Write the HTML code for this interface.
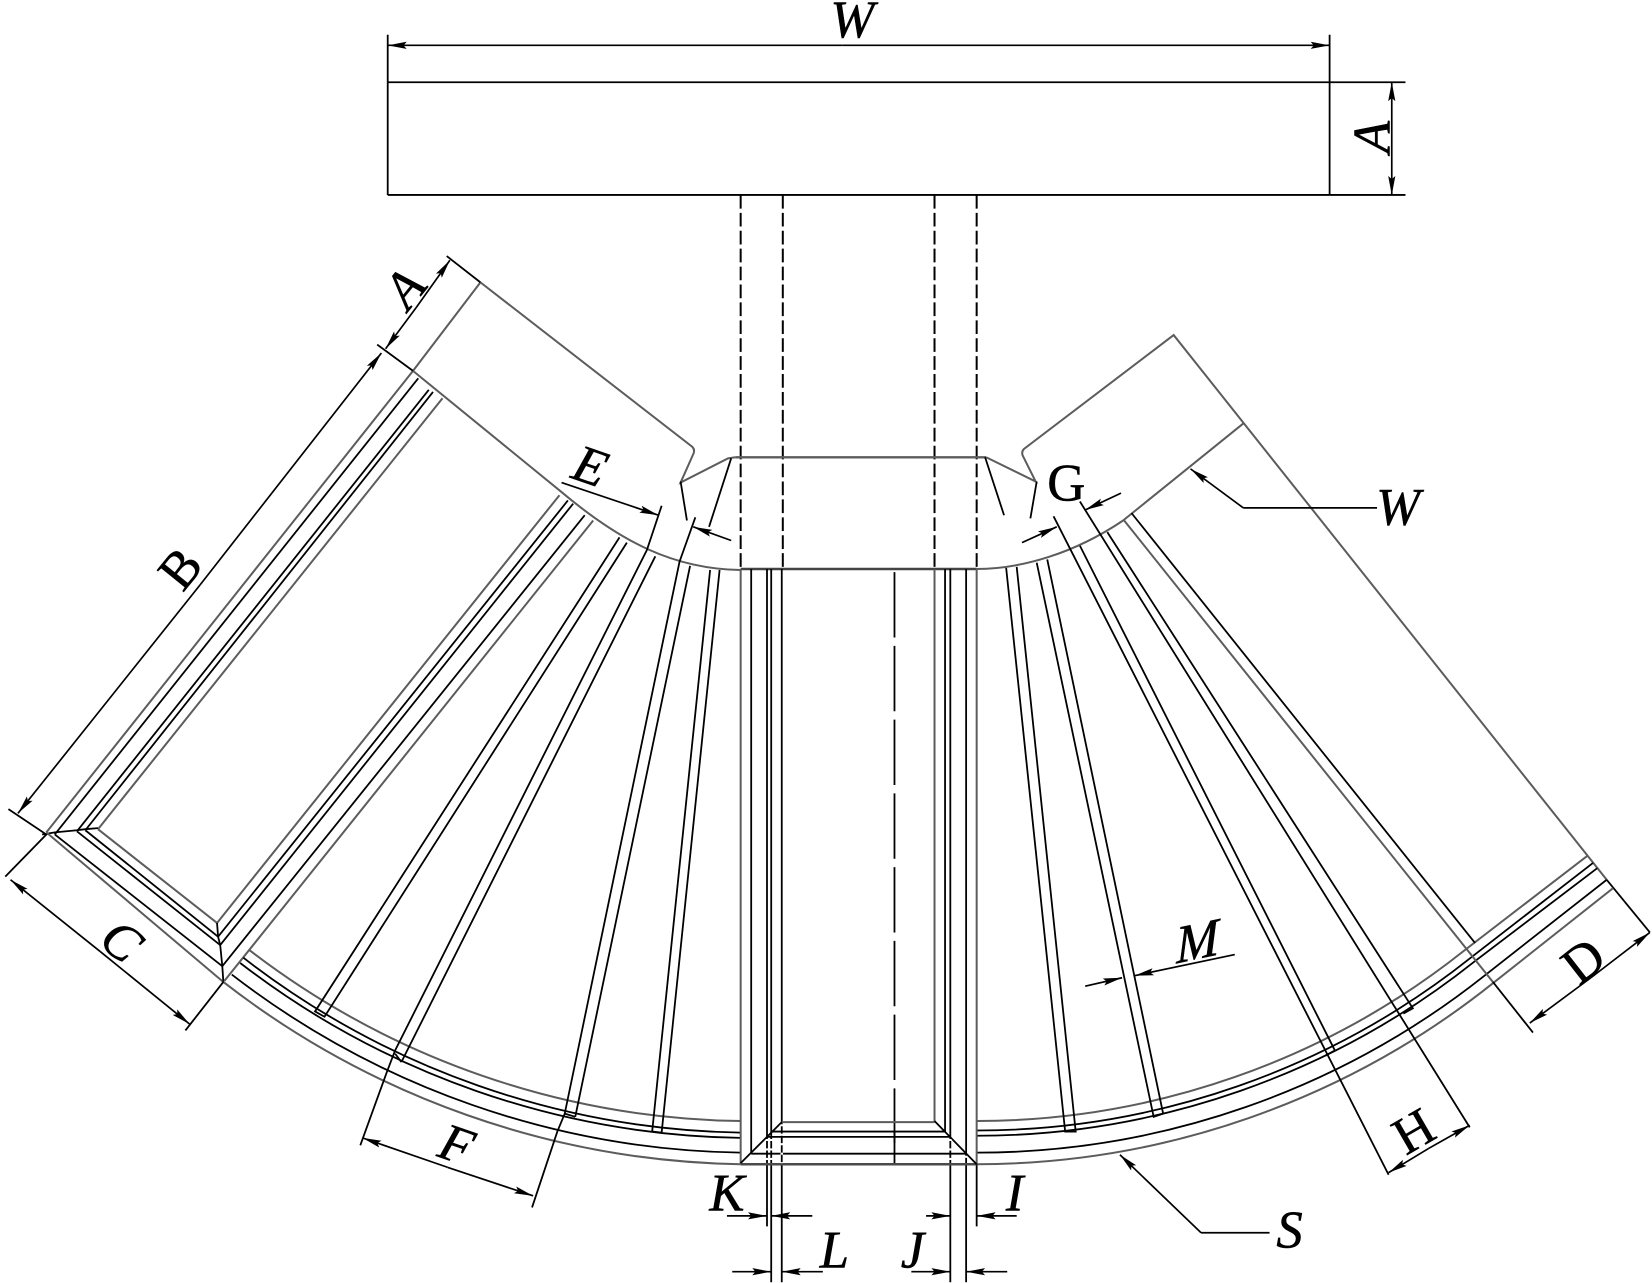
<!DOCTYPE html>
<html>
<head>
<meta charset="utf-8">
<style>
html,body{margin:0;padding:0;background:#fff;width:1652px;height:1283px;overflow:hidden}
svg{display:block}
.g{stroke:#5c5c5c;stroke-width:1.9;fill:none}
.k{stroke:#000;stroke-width:1.7;fill:none}
.d{stroke:#000;stroke-width:1.9;fill:none;stroke-dasharray:13 4}
.c{stroke:#000;stroke-width:1.7;fill:none;stroke-dasharray:62 8}
.a{stroke:#000;stroke-width:1.6;fill:none;marker-end:url(#ar)}
text{font-family:"Liberation Serif",serif;font-size:50px;fill:#000;text-anchor:middle;stroke:#000;stroke-width:.5}
.i{font-style:italic}
</style>
</head>
<body>
<svg width="1652" height="1283" viewBox="0 0 1568 1217.7" xmlns="http://www.w3.org/2000/svg">
<defs>
<marker id="ar" markerUnits="userSpaceOnUse" markerWidth="20" markerHeight="10" refX="18" refY="5" orient="auto">
<polygon points="0,1.6 18,5 0,8.4 3,5" fill="#000"/>
</marker>
</defs>
<rect width="1568" height="1218" fill="#fff"/>

<!-- Top view -->
<path class="k" d="M368,78H1262M368,185H1262M368,78V185M1262,78V185"/>
<path class="k" d="M368,33V78M1262,33V78M1262,78H1334M1262,185H1334"/>
<path class="a" d="M800,43H368"/><path class="a" d="M800,43H1262"/>
<path class="a" d="M1321,130V78"/><path class="a" d="M1321,130V185"/>

<!-- Dashed hidden lines -->
<path class="d" d="M703,185V540M743,185V540M887,185V540M927,185V540"/>
<path class="c" d="M849,543V1085"/>
<path class="k" d="M849,1075V1105"/>

<!-- Center block -->
<path class="g" style="stroke-width:2.2" d="M698,434H936"/>
<path class="g" style="stroke:#444;stroke-width:2.4" d="M703,540H927"/>

<!-- Left block outline -->
<path class="g" d="M456,268L657,424Q660,427 658,431L646,458L691,435L698,434"/>
<path class="g" d="M456,268L392,352L533,467C590,515 640,540 703,541"/>
<path class="k" d="M646,457L652,494M694,435L673,500"/>

<!-- Right block outline -->
<path class="g" d="M936,434L983,457L971,433Q969,429 972,426L1114,318L1525,835"/>
<path class="g" d="M1180,402L1066,494C1020,525 970,540 927,540"/>
<path class="k" d="M1525,835L1566,885"/>
<path class="k" d="M935,434L953,489M984,457L978,492"/>

<!-- Left arm -->
<path class="g" d="M44,790L392,352"/>
<path class="k" d="M52,792L397,359M73,789L407,370M81,788L411,372"/>
<path class="g" d="M93,787L420,378"/>
<path class="k" d="M40,792L52,790L73,788L81,787L93,786"/>
<path class="g" d="M44,790L212,932"/>
<path class="k" d="M52,792L211,917M73,789L209,897M81,788L207,889"/>
<path class="g" d="M93,787L206,876"/>
<path class="g" d="M206,876L531,470"/>
<path class="k" d="M207,889L539,475M209,897L544,478M211,917L555,489"/>
<path class="g" d="M213,931L563,494"/>
<path class="k" d="M206,876L207,889L209,897L211,917L212,932"/>

<!-- Left arcs -->
<path class="g" d="M212,932A822,822 0 0 0 703,1105"/>
<path class="k" d="M220,925A811,811 0 0 0 703,1094M228,914A797,797 0 0 0 703,1080M231,909A792,792 0 0 0 703,1075"/>
<path class="g" d="M237,902A782,782 0 0 0 703,1064"/>

<!-- Right arcs: circular then straight -->
<path class="g" d="M927,1105A786,786 0 0 0 1416,934L1531,843"/>
<path class="k" d="M927,1094A775,775 0 0 0 1409,926L1525,835M927,1078A759,759 0 0 0 1399,913L1516,824M927,1073A754,754 0 0 0 1396,909L1512,819"/>
<path class="g" d="M927,1064A745,745 0 0 0 1390,902L1507,812"/>

<!-- Left ribs -->
<path class="k" d="M588,510L299,960L308,965L595,515"/>
<path class="k" d="M628,480L614,522L375,997L367,1018L342,1087M622,528L381,1008M375,1000L381,1008"/>
<path class="k" d="M660,491L645,533L536,1057L529,1074L505,1146M655,537L546,1060M536,1057L546,1060"/>
<path class="k" d="M674,541L619,1074L628,1075L683,541"/>

<!-- Right ribs -->
<path class="k" d="M955,539L1011,1074L1021,1074L965,538"/>
<path class="k" d="M984,534L1095,1060L1104,1057L994,531"/>
<path class="k" d="M1000,490L1318,1115M1025,518L1267,997L1258,1002"/>
<path class="k" d="M1025,476L1395,1070M1051,505L1341,957L1332,962"/>
<path class="k" d="M1074,487L1400,895"/>
<path class="g" d="M1067,494L1417,932"/>
<path class="k" d="M1417,932L1455,980"/>

<!-- Center column -->
<path class="g" d="M703,540V1105M927,540V1105"/>
<path class="k" d="M713,540V1094M728,540V1164M732,540V1217M742,540V1217"/>
<path class="g" d="M887,540V1064"/>
<path class="k" d="M897,540V1074M902,540V1217M917,540V1217M927,1105V1164"/>
<path class="g" d="M742,1065H887"/>
<path class="k" d="M733,1074H897M728,1079H902M713,1095H917"/>
<path class="g" style="stroke-width:2.4;stroke:#4a4a4a" d="M703,1105H927"/>
<path class="k" d="M703,1104L742,1065M887,1064L927,1105"/>
<path d="M728,1081V1104M732,1081V1104M742,1067V1104M902,1081V1104M917,1097V1104" stroke="#fff" stroke-width="2.4" stroke-dasharray="2 7" fill="none"/>

<!-- Dimension lines: left -->
<path class="k" d="M424,243L456,268M358,327L392,352M8,768L44,792L5,832M212,932L176,978"/>
<path class="a" d="M395,292L427,247"/><path class="a" d="M395,292L366,331"/>
<path class="a" d="M190,555L362,335"/><path class="a" d="M190,555L17,772"/>
<path class="a" d="M95,903L10,835"/><path class="a" d="M95,903L180,972"/>
<path class="a" d="M425,1108L344,1080"/><path class="a" d="M425,1108L506,1135"/>

<!-- E / G -->
<path class="a" d="M533,458L625,489"/><path class="a" d="M694,513L658,500"/>
<path class="a" d="M970,515L1003,500"/><path class="a" d="M1064,468L1030,484"/>

<!-- D / H / M -->
<path class="a" d="M1510,928L1566,885"/><path class="a" d="M1510,928L1452,971"/>
<path class="a" d="M1356,1090L1395,1068"/><path class="a" d="M1356,1090L1318,1113"/>
<path class="a" d="M1030,936L1065,928"/><path class="a" d="M1172,906L1077,926"/>

<!-- Bottom dims -->
<path class="a" d="M690,1154H728"/><path class="a" d="M771,1154H732"/>
<path class="a" d="M695,1207H732"/><path class="a" d="M781,1207H742"/>
<path class="a" d="M865,1207H902"/><path class="a" d="M956,1207H917"/>
<path class="a" d="M879,1154H902"/><path class="a" d="M965,1154H927"/>

<!-- Leaders -->
<path class="a" d="M1180,482L1130,445"/><path class="k" d="M1180,482H1307"/>
<path class="a" d="M1140,1170L1063,1096"/><path class="k" d="M1140,1170H1205"/>

<!-- Labels -->
<text class="i" x="809" y="35">W</text>
<text class="i" transform="translate(1319,130) rotate(-90)">A</text>
<text class="i" transform="translate(397,284) rotate(-51)">A</text>
<text transform="translate(184,550) rotate(-51)">B</text>
<text class="i" transform="translate(105,906) rotate(39)">C</text>
<text class="i" transform="translate(555,458) rotate(19)">E</text>
<text x="1012" y="475">G</text>
<text class="i" x="1327" y="498">W</text>
<text transform="translate(1513,925) rotate(-38)">D</text>
<text class="i" transform="translate(428,1102) rotate(19)">F</text>
<text transform="translate(1350,1088) rotate(-30)">H</text>
<text class="i" transform="translate(1137,910) rotate(-12) skewX(-10)">M</text>
<text class="i" x="690" y="1149">K</text>
<text class="i" x="963" y="1149">I</text>
<text class="i" x="792" y="1203">L</text>
<text class="i" x="866" y="1203">J</text>
<text class="i" x="1224" y="1184">S</text>
</svg>
</body>
</html>
